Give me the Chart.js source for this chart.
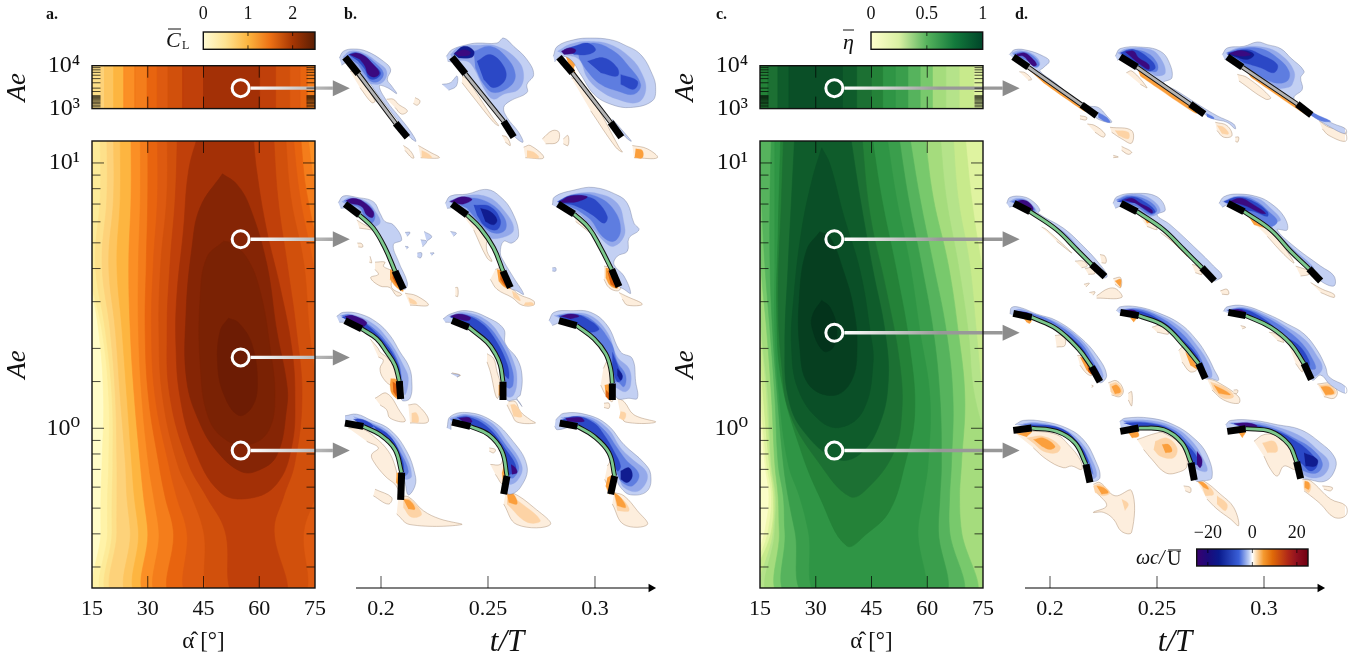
<!DOCTYPE html>
<html><head><meta charset="utf-8">
<style>html,body{margin:0;padding:0;background:#fff;width:1356px;height:661px;overflow:hidden}canvas{position:absolute}</style>
<script src="https://cdn.jsdelivr.net/npm/chart.js@4"></script></head><body>
<script>
// ---------- contour palettes ----------
const clColors=['#fffcc8','#fff3a8','#fdeb99','#fde08a','#fdd27a','#fdc55f','#fdb540','#fb8f25','#f47d1b','#e8640f','#dd5a10','#d1500c','#c0400a'];
const clBlobColors=['#a33006','#852505','#7a2204','#6d1c04'];
const etaColors=['#fbfdc8','#f0f8b0','#dff3a0','#c8ea8c','#b5e38a','#a5dc7d','#78c96c','#56b35d','#3a9e4c','#2f9545'];
const etaBlobColors=['#248238','#1c7033','#0f5c2b','#0a4f27','#063f20','#03331b'];
// ---------- Ae rows of the contour boundaries ----------
const aeRows=[13,7.4,4.17,2.33,1.31,0.734,0.55,0.41,0.23];
const aeTopRows=[12000,800];
// ---------- panel a: lift contours, alpha of each boundary per Ae row ----------
const clLeft=[
[5,5,5,5,5,5,5,5,5],
[14,14,14,16.8,18.1,17.7,17.4,17.4,17.7],
[14,14,14,17.7,19.5,19.5,19.2,19.2,19.5],
[17.2,17.2,15.9,18.6,20.4,20.6,20.4,20.4,20.8],
[19,19,17.7,19.9,21.3,21.7,21.7,21.7,22.2],
[20.8,20.8,19.5,21.3,22.6,24,24.4,25.3,26],
[22.6,22.6,21.7,23.1,24.4,25.7,26.4,27.5,28.4],
[25.5,25.5,24.9,25.3,26.4,28,28.9,30,30.7],
[28,28,27.5,27.5,28.4,30.2,31.6,33,33.8],
[30,30,29.6,29.3,30.2,33,34.7,36.9,37.4],
[32.6,32.6,31.5,31,32,35.6,37.8,40.5,41.9],
[35.3,35.1,33.5,33,34,38,41.9,45,47.7],
[38,37.4,36,35.2,36,41,45.9,50.8,53.5]];
const clRight=[
[90,90,90,90,90,90,90,90,90],[90,90,90,90,90,90,90,90,90],[90,90,90,90,90,90,90,90,90],[90,90,90,90,90,90,90,90,90],
[90,90,90,90,90,90,90,90,90],[90,90,90,90,90,90,90,90,90],[90,90,90,90,90,90,90,90,90],[90,90,90,90,90,90,90,90,90],
[72.8,76.5,90,90,90,90,90,90,90],
[71,73,78,90,90,90,90,90,90],
[69,71,74.5,77,90,90,90,90,90],
[67,68.5,72,73.5,75.5,77,75,72,71.3],
[63.8,65,67.5,70,71.5,69.5,66.5,64,67]];
const clBlobs=[
[[43.7,13],[41,9.36],[39.6,5.56],[37.8,3.11],[37.6,2.02],[38.7,1.31],[42.3,.85],[49.5,.574],[57.5,.545],[64.7,.617],[68.7,.85],[69.6,1.31],[68.7,2.02],[65.6,3.4],[62,5.56],[59.3,9.36],[58.3,13]],
[[50.1,9.1],[44.1,6.8],[41.9,4.8],[40.3,2.7],[40.5,1.51],[44.1,1.04],[48.6,.82],[54.8,.69],[59.3,.69],[64.7,.79],[67.4,1.2],[67.4,1.47],[64.7,2.33],[62,4.17],[57.5,6.8],[54,8.3],[50.1,9.1]],
[[50.4,5.07],[45.9,4.4],[44.1,3.11],[44.1,1.75],[46.3,1.1],[51.3,.9],[57.5,.87],[62.5,.98],[64.2,1.31],[62.9,2.02],[60.2,3.3],[56.6,4.4],[52.2,5],[50.4,5.07]],
[[51.7,2.6],[49.5,2.33],[48.8,1.75],[50.4,1.35],[54.4,1.12],[58,1.2],[59.5,1.47],[58,2.08],[54.4,2.5],[51.7,2.6]]];
// panel a, high Ae strip: [colour index in clColors or blob, left alpha, right alpha]
const clTopLevels=[[3,5,90],[4,17.3,90],[5,18.4,90],[6,20.9,90],[7,23.6,90],[8,26.5,90],[9,29.9,72.9],[10,32.6,71],[11,35.5,68.2],[12,39.4,64.4]];
const clTopPeak=[45,60.1];
// ---------- panel c: efficiency contours ----------
const etaLeft=[
[5,5,5,5,5,5,5,5,5],
[13,13,13,13.7,14.8,16.3,17.4,16.3,13],
[13,13,13,14,15.2,16.8,18.1,17.2,13.7],
[13,13,13.7,14.6,15.9,17.5,18.6,18.1,14],
[13,13,14,15.2,16.8,17.9,19,18.6,17],
[13,13,14.3,15.4,17.2,18.1,19.3,19,18.6],
[13,14.6,15.2,16.8,18.1,19,19.9,20.2,21.3],
[14.8,15.4,16.3,17.7,19,19.9,21.3,21.7,23.3],
[18.1,17.7,17.7,18.4,19.7,21.3,22.6,24.4,28],
[19,19,19,19,20.2,22.6,25.7,28,31.1]];
const etaRight=[
[90,90,90,90,90,90,90,90,90],[90,90,90,90,90,90,90,90,90],[90,90,90,90,90,90,90,90,90],
[70.1,71.9,74.6,78,90,90,90,90,90],
[66.9,68.3,71.4,73.2,75,78,90,90,90],
[63.4,65.1,68.3,71,72.8,78,80,80,80],
[59.3,61.6,65.6,68.3,70.1,69.2,68.7,69.2,71.9],
[55.1,58,61.6,65.1,66.9,66.5,66,66,68.3],
[52.2,54.9,58.4,61.6,63.4,63.8,63.4,63,63.8],
[49,51.7,55.3,58,60.7,60.2,58.9,57.5,58]];
const etaBlobs=[
[[20.6,13],[19.9,5.56],[19.5,2.7],[20.8,1.51],[25.7,.85],[31.1,.55],[38.3,.361],[43.7,.4],[49.9,.49],[54,.734],[56.6,1.13],[55.3,2.02],[51.7,3.93],[47.7,7.4],[45,13]],
[[21.4,13],[20.8,7.4],[19.9,3.11],[20.8,1.75],[23.1,1.13],[31.1,.734],[39.2,.553],[43.7,.59],[50.8,.8],[53.1,1.13],[52.6,1.75],[49,3.3],[44.6,6.4],[42.3,13]],
[[24.4,13],[23.5,7.4],[22.6,4.17],[21.7,2.02],[22.6,1.31],[26.6,.98],[35.6,.766],[41.9,.8],[47.2,1.04],[49.5,1.51],[48.6,2.33],[45.4,3.93],[41.9,7.4],[39.2,13]],
[[31.6,11.4],[29,8.6],[26.2,5.56],[24.1,3.11],[23.5,2.02],[25.3,1.4],[31.1,1.07],[36.9,1.01],[42.8,1.17],[45.4,1.75],[44.6,2.33],[41.9,3.93],[37.4,6.4],[33.8,9.9],[31.6,11.4]],
[[31.1,5.5],[27.5,4.67],[25.6,3.11],[25.7,2.02],[28,1.47],[34.7,1.33],[39.6,1.51],[41.1,2.02],[40.1,2.86],[37.4,3.93],[33.8,5.26],[31.1,5.5]],
[[31.6,3.03],[29.3,2.7],[29,2.4],[32,1.96],[34.7,2.02],[35.6,2.4],[33.8,2.86],[31.6,3.03]]];
const etaTopLevels=[['#dff3a0',5,90],['#c8ea8c',5,72.5],['#b5e38a',5,68.6],['#a5dc7d',5,65],['#78c96c',5,61.4],['#56b35d',5,58.1],['#3a9e4c',5,54.8],['#2f9545',5,51.4],['#248238',15.5,48],['#1c7033',17.2,45],['#0f5c2b',19.9,41],['#0a4f27',22.9,37.2]];
// ---------- operating points marked on the maps ----------
const clPoints=[[55,5.16],[55,1.85],[55,.824]], clTopPoint=[55,3000];
const etaPoints=[[35,5.16],[35,2.29],[35,.824]], etaTopPoint=[35,3000];
// ---------- colour bars ----------
const clBarStops=[[0,'#fffbd4'],[.2,'#fee391'],[.4,'#fdb53f'],[.6,'#ec7014'],[.8,'#a63603'],[1,'#5a1e04']];
const etaBarStops=[[0,'#ffffcc'],[.25,'#d9f0a3'],[.5,'#56b35d'],[.75,'#137a3c'],[1,'#004529']];
const vortBarStops=[[0,'#3a0070'],[.1,'#1c0a7a'],[.2,'#0a1a8c'],[.38,'#3a60d8'],[.47,'#c0d0f4'],[.5,'#ffffff'],[.53,'#fde0b8'],[.6,'#f59a30'],[.68,'#e06a08'],[.82,'#b02818'],[.9,'#901020'],[1,'#700010']];
const clBarTicks=[0,1,2], etaBarTicks=[0,.5,1], vortBarTicks=[-20,0,20];
// ---------- snapshots: time axis ----------
const timeTicks=[.2,.25,.3];
// vorticity levels: 1-6 negative (pale to dark), 11-14 positive (pale to dark)
const vortColors={1:'#c3d0f3',2:'#94a9ea',3:'#5e7de0',4:'#2b48c6',5:'#101c90',6:'#3a0a80',11:'#fdeedd',12:'#fdd3a5',13:'#fb9f3c',14:'#d95f0e'};
// chord coordinates are read at 300 units per chord
const rowOriginB=[158,92,445,215], colOriginB=[45,365,685], rowYB=[.527,2.007,3.183,4.217];
const rowOriginD=[67,510,48,402], colOriginD=[40,360,680], rowYD=[.523,2,3.11,4.29];
const plateB=[
[[45,158,85,208,197,358,232,400],[365,158,405,208,520,352,550,400],[685,158,725,205,840,355,872,400]],
[[45,92,88,125,130,165,165,225,195,295,220,350],[365,92,410,125,450,165,490,225,518,295,540,345],[682,92,730,122,775,165,810,225,843,290,865,342]],
[[45,445,95,470,140,500,170,540,195,580,208,628,212,682],[365,445,415,465,470,510,495,545,510,580,518,630,518,685],[685,445,738,460,790,500,825,545,840,590,845,635,845,685]],
[[45,215,100,225,150,250,195,295,215,365,212,447],[365,212,420,225,475,250,515,300,530,375,520,430],[687,215,740,225,790,255,835,305,852,375,840,430]]];
const vortB=[[
[[11,60,200,80,205,135,290,125,295,90,250],[11,170,285,190,285,205,300,232,320,215,330,195,310],[11,255,280,270,290,262,303,250,298],[11,265,425,300,445,328,462,272,462],[11,220,425,240,440,252,462,245,462,225,440],[12,275,440,295,450,305,462,275,462],[13,70,165,88,172,95,205,80,190],
 [1,28,160,40,140,70,133,110,140,160,170,182,195,172,225,185,245,200,268,172,250,148,245,170,290,205,335,240,380,258,412,240,400,200,345,150,280,90,200,50,175,35,182],[2,38,158,60,140,100,145,145,175,170,200,160,232,130,240,105,225,85,190,55,170],[3,50,155,70,143,100,150,135,175,160,205,150,228,125,232,105,210,85,180],[4,55,150,80,145,110,160,130,180,152,205,140,222,118,222,105,195,85,170],[6,58,150,80,145,105,155,125,175,148,205,135,218,115,210,105,185,90,165]],
[[11,395,215,410,225,480,330,490,345,505,365,490,355,430,280,395,235],[11,515,395,530,400,540,425,525,415],[11,580,430,600,425,640,462,585,462],[12,590,440,610,445,625,462,590,462],[13,388,168,425,168,415,200,470,275,450,250,405,205],
 [1,348,155,365,135,410,120,440,115,500,115,520,100,550,125,590,165,610,210,590,240,590,265,540,290,520,310,530,340,565,385,578,415,555,400,520,352,470,290,430,235,395,195,370,175,352,170],[1,335,240,360,235,380,215,378,245,355,258],[2,360,150,385,128,440,122,500,125,560,165,580,210,565,255,520,270,490,285,465,260,430,190,410,170,370,170],[3,430,140,480,125,530,160,555,210,540,245,490,265,460,240,435,190],[4,440,170,480,150,520,185,525,225,490,250,460,225],[5,370,148,400,125,430,138,425,158,385,160],[6,373,145,400,135,420,142,415,152,385,155]],
[[11,722,220,745,230,800,310,865,430,875,445,855,430,780,320],[11,635,405,665,380,685,385,680,415,645,420],[11,698,405,712,395,712,425,698,420],[11,905,425,950,435,980,462,910,462],[13,705,155,750,155,730,195,790,280,750,235,720,195],[13,915,435,935,440,935,462,912,462],
 [1,668,155,680,125,730,105,780,100,840,105,880,120,930,150,965,210,975,250,965,290,900,310,840,300,790,270,750,210,720,165,690,155,672,172],[1,845,345,880,385,902,412,885,400,845,350],[2,680,140,720,118,780,110,840,120,900,160,935,210,945,260,920,295,860,285,810,260,770,220,745,165,700,150],[3,740,130,790,115,850,140,890,180,930,240,910,270,860,260,810,240,770,200,745,160],[4,700,135,730,125,770,115,795,135,770,150,730,150],[4,770,170,820,160,860,190,860,215,810,205],[4,870,210,920,230,910,255,870,240],[6,692,140,715,130,735,135,730,145,700,150]]
],[
[[11,80,140,95,150,130,170,110,168,88,165],[11,82,210,95,212,98,222,85,222],[11,120,250,125,270,118,268],[11,135,268,165,268,160,280,178,290,190,295,185,345,215,365,200,370,180,345,150,340,122,315,145,305,135,290],[11,225,362,260,370,295,398,240,398],[12,235,375,255,385,260,395,240,392],[13,180,290,195,298,220,355,200,345,180,320],[14,188,300,195,310,215,350,200,335,188,315],
 [1,25,88,40,68,80,72,130,85,150,120,165,145,190,155,215,200,190,215,205,265,232,330,225,350,210,340,190,290,165,225,125,165,85,125,50,105,32,105],[1,225,178,240,178,232,190],[1,272,200,290,205,278,222],[1,282,175,305,190,290,205],[1,262,240,275,240,272,255,262,252],[1,300,240,312,240,305,248],[1,225,220,235,222,230,228],[2,35,85,60,72,110,85,140,120,150,150,120,160,95,130,60,100],[3,42,82,65,76,110,90,135,125,125,150,105,135,90,105,55,92],[6,48,82,70,75,100,85,130,115,128,133,110,125,95,100,60,90]],
[[11,400,130,420,135,480,215,470,205,470,235,485,265,470,255,430,170],[11,495,290,515,285,545,345,565,365,610,385,610,398,575,398,545,375,500,350,480,320],[11,375,345,382,345,382,372,375,370],[12,545,355,560,365,570,385,550,375],[12,585,390,605,390,610,398,580,398],[13,500,290,515,295,545,345,525,345,505,325],[14,510,300,520,310,540,345,525,340,510,320],
 [1,345,90,360,68,410,62,470,48,510,70,545,115,565,185,545,210,520,205,510,240,520,265,550,315,580,365,560,355,538,345,518,295,490,225,450,165,410,125,370,105,350,105],[1,360,175,378,180,370,190],[2,355,85,400,68,470,70,520,110,550,170,510,195,470,190,440,150,400,110],[3,360,82,400,72,470,85,520,130,525,170,490,180,450,150,410,105],[4,430,95,480,100,510,140,500,170,465,160,440,125],[5,450,105,480,115,500,140,490,155,465,145],[6,358,85,395,70,425,78,400,92,375,90]],
[[11,725,105,745,115,790,170,830,260,800,200,760,165,735,145],[11,820,280,840,285,870,345,860,355,835,345,820,320],[11,865,360,885,370,935,395,890,398,875,380],[13,825,285,838,290,862,345,840,340,825,315],[14,830,295,840,310,858,345,840,335],
 [1,665,95,672,70,730,50,790,42,860,65,890,90,910,150,925,170,895,195,890,235,860,250,850,275,880,310,900,362,880,350,865,340,843,290,810,225,775,165,730,122,690,108],[1,665,285,675,285,675,295,665,295],[2,680,85,730,62,800,60,860,90,880,150,880,190,850,220,825,210,790,170,750,125],[3,682,85,740,62,800,70,850,110,870,170,850,205,815,190,780,140,740,110],[4,680,85,720,66,770,70,800,85,830,130,820,150,785,125,740,100,700,90],[6,683,88,720,68,770,70,740,85,700,88]]
],[
[[11,120,500,145,530,150,540,175,560,195,590,200,620,185,640,160,620,150,590,160,565,145,555],[11,135,680,170,665,210,720,225,750,180,740,170,715,150,700],[11,235,700,262,700,295,750,240,755],[12,245,725,260,725,265,752,245,752],[13,182,620,200,625,203,680,185,665,180,640],[14,188,630,200,640,202,675,190,660],
 [1,20,432,40,420,90,425,140,450,180,490,210,540,235,580,245,620,240,680,215,685,212,630,195,580,170,540,140,500,95,470,50,452,28,450],[2,30,430,60,425,130,455,180,510,220,580,235,620,225,670,218,630,195,580,170,540,140,500,95,470],[3,35,430,60,428,120,460,170,510,205,570,215,620,215,650,195,580,170,540,140,500,95,470],[4,35,435,70,430,120,465,175,525,205,580,212,620,195,575,170,535,140,495,95,465],[6,45,432,70,430,110,450,95,465,60,448]],
[[11,470,545,490,560,500,600,510,640,500,680,480,600,470,570],[11,535,690,555,690,570,720,600,745,615,755,560,752,545,730,530,700],[11,365,603,390,610,380,616],[12,540,700,555,700,575,735,550,735],[13,505,640,515,640,520,680,505,670],
 [1,338,440,360,425,410,415,470,435,520,470,525,515,560,560,575,610,570,670,560,680,575,705,560,685,530,685,518,630,510,580,490,540,470,510,415,465,372,452,345,450],[1,362,605,388,610,380,616],[2,355,432,400,420,470,445,515,500,550,570,560,620,550,670,530,675,518,630,510,580,490,540,470,510,415,465],[3,360,432,400,425,460,450,510,510,545,590,548,640,535,650,518,630,510,580,490,540,470,510,415,465],[4,360,435,400,428,450,450,490,495,530,575,535,620,520,605,505,570,485,530,465,500,415,460],[6,360,432,385,425,420,435,415,445,380,440]],
[[11,818,590,830,570,845,640,845,690,825,670,810,640],[11,860,680,880,690,910,730,975,752,885,752,870,730],[11,820,695,835,695,835,710,820,708],[12,870,720,885,725,880,745,865,740],[13,822,640,835,640,840,685,825,670],[14,826,655,838,670,838,685,825,675],
 [1,655,445,670,420,720,415,780,420,830,460,870,540,905,560,915,630,920,680,895,680,860,680,845,635,840,590,825,545,790,500,738,460,695,450,665,460],[2,670,430,720,422,780,430,830,480,860,555,895,590,900,640,885,660,860,650,845,635,840,590,825,545,790,500,738,460],[3,680,430,720,425,780,440,840,510,860,570,885,610,880,645,860,630,845,635,840,590,825,545,790,500,738,460],[4,685,432,730,425,770,440,805,470,780,480,738,455],[4,845,540,865,590,875,620,860,630,845,590],[5,860,590,875,610,870,625,860,610],[6,690,432,720,425,745,432,720,440]]
],[
[[11,55,230,95,232,135,258,175,300,195,345,205,395,205,415,195,400,165,375,130,330,125,310,145,290,110,270],[11,205,440,235,438,280,480,330,505,395,522,240,522,200,490],[11,135,415,185,440,175,460,130,435],[12,220,445,240,445,275,490,245,500,220,470],[13,200,365,212,370,210,405,198,395],[13,220,445,240,450,255,475,235,475],
 [1,45,193,80,188,120,205,180,235,230,300,255,370,255,405,235,432,225,395,215,365,195,295,150,250,100,225,45,210],[2,70,195,120,212,180,245,225,310,245,375,225,385,215,365,195,295,150,250,100,225],[3,80,200,120,215,175,250,215,310,235,360,225,375,215,365,195,295,150,250,100,225],[4,70,203,100,205,130,225,100,225],[4,130,222,180,255,215,320,222,360,215,365,195,295,150,250]],
[[11,480,340,510,340,520,320,530,360,518,400,495,370],[11,477,290,495,295,490,305,477,300],[11,525,430,545,425,610,470,660,522,560,522,520,460],[12,530,430,570,455,630,510,590,515,530,460],[13,525,325,535,350,530,375,520,395,515,365],[13,530,425,550,430,560,460,535,455],
 [1,350,230,360,195,410,183,480,205,540,260,590,345,570,410,535,430,525,400,530,375,515,300,475,250,420,225,365,212,362,235],[2,358,200,410,188,480,212,530,270,575,345,560,390,530,400,530,375,515,300,475,250,420,225,365,212],[3,360,205,410,192,475,220,525,280,565,345,550,380,532,375,515,300,475,250,420,225],[4,380,198,420,198,475,230,530,300,555,340,555,365,540,370,530,375,515,300,475,250,420,225],[6,385,200,415,198,425,212,400,212],[6,542,340,555,350,560,365,545,370]],
[[11,830,345,845,325,852,375,840,420,822,385],[11,850,425,880,435,920,480,950,522,880,522,845,460],[12,850,430,880,450,895,480,860,480],[13,830,380,845,375,838,430,825,405],[13,850,425,870,440,885,470,860,465],
 [1,675,205,700,185,770,190,830,220,880,280,940,335,960,370,950,420,900,432,870,410,855,380,852,375,835,305,790,255,740,225,680,235,672,225],[2,690,198,770,195,830,230,870,290,900,320,950,370,925,420,880,410,860,370,852,375,835,305,790,255,740,225],[3,700,198,770,200,820,235,860,290,885,325,925,370,905,405,875,395,860,370,852,340,835,305,790,255,740,225],[4,690,205,740,195,790,215,820,250,850,300,870,345,860,360,835,305,790,255,740,225],[5,870,360,895,350,905,375,890,395,870,385],[6,705,200,750,198,760,210,710,210]]
]];
const plateD=[
[[40,67,85,98,245,212,290,245],[360,67,410,98,570,210,612,240],[680,67,725,98,890,210,932,243]],
[[42,510,90,535,170,590,230,650,275,695,315,732],[362,510,410,535,490,590,550,650,605,705,642,745],[682,510,730,535,810,590,870,655,925,708,960,745]],
[[40,48,95,60,170,95,235,155,275,210,300,255],[360,45,415,55,490,85,550,145,595,200,615,245],[683,45,735,55,810,90,870,140,910,200,932,248]],
[[40,402,95,395,170,405,225,440,258,505,270,560],[360,405,415,395,490,400,545,440,572,500,582,553],[680,405,735,397,810,405,865,445,888,497,900,548]]];
const vortD=[[
[[11,58,112,75,115,95,135,85,138],[11,240,245,260,250,258,258,240,255],[11,262,270,285,275,315,300,310,310,285,295],[11,330,280,395,290,395,328,365,315,335,295],[11,365,338,395,355,385,362,365,350],[11,340,365,355,370,340,372],[12,345,290,385,295,385,315,355,305],[13,80,100,90,108,160,158,245,218,255,232,200,195,130,145],
 [1,28,60,45,45,85,48,130,65,148,80,130,100,120,110,165,145,220,190,265,215,295,220,320,245,335,265,305,260,280,245,245,212,185,165,85,98,40,72],[2,35,55,60,48,100,60,120,85,110,100,85,85,50,70],[2,160,145,240,205,245,212,185,165],[3,40,58,70,52,100,65,118,90,105,98,85,80,50,67],[3,295,235,320,250,330,265,310,260,295,250],[6,50,58,75,55,95,70,110,90,100,95,85,80,70,65,50,65]],
[[11,378,115,395,110,440,160,420,150],[11,645,265,680,275,695,305,670,310,650,290],[11,705,310,715,310,712,325,705,322],[12,650,275,670,280,685,300,665,300],[13,410,100,480,150,570,212,590,238,565,225,470,160,420,125],
 [1,345,65,360,42,430,38,480,50,505,80,515,130,490,145,530,170,600,215,650,245,700,270,705,285,680,265,640,255,612,240,570,210,500,165,410,98,360,72,352,78],[2,352,55,380,42,450,45,480,70,495,115,470,125,450,115,410,98],[3,360,55,385,45,440,55,470,85,470,110,445,110,420,98,380,72],[3,618,238,640,250,640,255,620,248],[4,360,55,400,45,450,75,465,100,445,110,410,88],[6,375,52,400,50,415,70,445,90,445,105,420,90,395,70]],
[[11,710,120,740,130,810,190,795,195,715,140],[11,955,260,985,280,1030,290,1035,322,985,305,965,285],[12,1020,280,1035,285,1035,300,1020,295],[13,730,100,810,156,890,212,920,243,885,222,800,163,750,128],
 [1,665,60,680,40,730,35,770,22,800,30,840,42,870,70,910,110,900,130,905,165,880,190,900,215,960,250,1000,270,1035,285,1035,300,990,280,932,243,890,210,810,155,725,98,680,72,672,75],[2,675,55,720,38,790,38,840,60,880,110,875,150,860,160,825,160,725,90],[3,680,55,720,42,780,42,830,70,865,110,860,140,820,145,770,120,725,88],[3,905,215,945,240,990,262,960,260,925,240],[4,680,55,740,45,780,60,830,90,820,115,780,100,730,85],[5,680,60,730,48,760,60,740,75,700,65],[6,685,57,720,48,750,60,730,65,700,62]]
],[
[[11,125,582,140,590,215,660,170,625],[11,225,685,250,685,262,700,245,705],[11,255,708,275,705,285,722,265,725],[11,300,665,315,670,318,690,305,690],[11,290,790,325,768,350,770,365,795,290,797],[11,268,780,285,778,280,788],[11,252,755,268,752,258,763],[11,340,738,362,735,362,765,345,755],[13,345,745,362,740,362,765],
 [1,20,510,30,492,70,490,100,505,120,530,115,540,190,585,250,640,300,695,322,730,310,735,275,695,230,650,170,590,90,535,40,520,28,522],[2,28,505,50,495,80,500,110,535,90,535,42,510],[2,120,555,190,595,240,650,230,650,170,590],[3,35,505,60,498,85,508,105,530,90,532,55,515],[6,45,505,70,500,90,510,100,528,90,530,60,515]],
[[11,415,545,465,580,470,590,440,580],[11,480,598,560,660,570,670,555,655],[11,575,695,590,700,605,725,585,720],[11,660,775,680,770,685,785,665,785],[13,425,545,460,565,440,570],[13,490,600,560,670,555,665],
 [1,338,510,350,490,400,480,470,490,495,530,470,545,510,575,590,650,640,700,665,730,645,745,642,745,605,705,550,650,490,590,410,535,362,520,345,525],[2,345,500,385,483,440,490,480,530,450,550,410,535],[2,490,580,550,640,610,705,550,650],[3,350,500,385,487,440,500,470,530,450,545,410,520],[4,350,505,395,490,440,510,465,535,450,540,410,510],[6,370,500,395,495,420,510,455,530,455,540,430,525,405,510]],
[[11,735,545,790,580,840,630,880,690,850,665,800,610],[11,885,700,925,715,925,725,900,730],[11,930,750,965,770,1000,785,1000,795,960,780],[13,740,545,800,585,760,575],
 [1,655,510,670,490,710,482,770,490,810,510,850,550,860,590,830,590,880,640,960,700,1000,730,1000,760,960,745,925,708,870,655,810,590,730,535,682,515,665,522],[2,665,505,710,488,770,495,810,525,840,560,820,570,810,590,730,535],[2,830,600,880,650,940,705,925,708,870,655],[3,670,505,710,490,760,500,810,540,830,565,810,580,760,555,730,535],[4,670,505,710,492,760,505,800,535,800,550,760,535,730,530],[6,685,505,720,495,760,515,795,540,780,540,740,520,710,510]]
],[
[[11,165,115,190,115,195,145,170,150],[11,232,175,255,180,275,235,260,230,240,205],[11,325,258,350,252,370,280,360,300,335,295],[11,385,290,395,285,395,328,385,310],[11,275,265,280,268,275,272],[12,330,262,350,258,368,285,350,298,332,285],[13,240,180,255,185,275,230,260,220],[13,335,270,350,265,362,285,345,292],[13,70,62,95,62,90,78,80,75],[14,262,205,272,210,275,232,265,225],
 [1,30,50,35,30,60,30,110,50,170,70,240,120,290,175,320,235,300,258,280,220,235,155,170,95,95,60,40,55],[2,40,40,60,35,110,52,170,75,240,125,285,185,310,235,300,250,280,220,235,155,170,95,95,60],[3,45,42,100,50,170,80,240,135,280,195,300,235,290,230,275,210,235,155,170,95,95,60],[4,45,42,85,47,95,60,60,55],[4,270,190,295,225,295,240,275,210],[4,150,75,240,145,275,205,235,155,170,95],[6,48,42,85,48,90,58,55,55]],
[[11,455,90,480,85,505,110,470,105],[11,535,160,550,150,590,215,570,225,545,195],[11,620,245,650,255,715,300,715,320,670,310,635,280],[11,700,280,712,280,710,290,700,290],[12,630,255,680,275,700,300,670,305,640,280],[13,555,165,575,185,590,215,570,205],[13,640,265,680,285,690,295,655,290],[13,390,62,410,60,400,75],
 [1,348,40,360,28,410,28,470,45,540,80,590,130,620,175,640,215,655,250,630,245,615,245,595,200,550,145,490,85,415,55,360,50],[2,355,38,410,32,470,50,540,90,590,145,625,200,635,240,615,240,595,200,550,145,490,85,415,55],[3,360,38,410,35,470,55,530,95,580,150,610,205,610,225,595,200,550,145,490,85,415,55],[4,360,40,415,40,490,75,545,125,590,175,598,200,550,145,490,85,415,55],[6,362,40,400,38,412,52,370,50]],
[[11,805,105,825,110,850,135,830,130],[11,865,145,875,145,905,205,905,225,885,200],[11,950,262,990,260,1010,285,1000,305,970,300],[11,720,85,735,90,725,95],[12,955,265,990,265,1005,290,975,298],[13,960,270,985,270,1000,290,975,295],
 [1,668,42,680,28,730,25,800,50,860,80,910,110,950,160,975,210,985,240,1035,270,1035,290,990,265,960,235,935,250,910,200,870,140,810,90,735,55,683,48],[2,675,38,730,30,800,55,860,90,910,125,945,170,965,215,935,240,910,200,870,140,810,90,735,55],[3,680,38,730,33,800,62,860,100,905,140,935,185,945,215,925,215,910,200,870,140,810,90,735,55],[4,680,40,730,36,790,65,850,115,895,145,925,190,925,210,910,190,870,140,810,90,735,55],[6,685,40,715,36,735,45,695,48]]
],[
[[11,45,410,95,405,170,415,205,445,240,490,245,520,215,510,190,515,140,490,100,455],[11,280,565,300,560,345,600,395,585,395,710,365,708,340,670,310,650,280,650,320,630,290,590],[12,80,425,130,420,180,450,170,470,130,465,105,445],[12,280,570,300,565,330,590,310,600,285,590],[12,365,610,385,625,375,645],[13,100,430,130,425,165,450,150,460,125,450],[13,290,570,310,575,325,590,305,595],[13,50,412,95,405,80,422],
 [1,45,385,70,372,130,375,200,395,250,430,285,490,300,545,275,555,258,505,225,440,170,405,95,395],[2,55,385,110,378,190,398,245,440,280,500,290,540,275,548,258,505,225,440,170,405,95,395],[3,70,383,120,383,190,402,240,445,270,500,280,535,275,530,258,505,225,440,170,405,95,395],[4,90,385,180,395,235,440,265,495,258,505,225,440,170,405,95,395]],
[[11,410,430,470,410,490,410,545,450,560,510,530,530,495,530,455,490,430,460],[11,590,555,610,555,660,595,700,635,715,690,690,670,650,640,620,610],[11,550,570,570,575,570,590,555,585],[12,465,435,500,425,530,455,520,485,480,480,460,460],[12,600,560,625,570,640,595,615,600],[12,650,600,680,625,675,645,650,625],[13,590,555,610,560,625,580,610,575],[13,485,445,505,445,515,465,495,470],[13,385,410,410,405,415,420,395,425],
 [1,358,375,375,365,450,365,520,385,580,425,620,475,635,545,605,555,585,553,572,500,545,440,490,400,415,395,362,395],[2,365,372,450,372,520,392,575,435,610,490,620,525,590,520,572,500,545,440,490,400,415,395],[3,370,375,450,378,520,400,570,445,600,490,605,510,585,500,572,500,545,440,490,400,415,395],[4,370,380,440,380,510,400,565,450,595,490,600,505,575,500,545,440,490,400,415,395],[6,590,465,605,490,600,515,590,505]],
[[11,760,435,790,415,830,420,880,480,885,520,850,510,830,540,810,520,790,480],[11,905,550,930,555,990,610,1035,630,1035,660,1000,665,960,625,930,600,910,585],[11,965,570,995,575,990,585,970,580],[12,785,440,820,435,830,465,800,470],[12,910,560,930,565,925,590,910,580],[13,912,555,925,560,925,580,912,575],[13,890,480,905,490,900,505],[13,715,410,735,405,725,425],
 [1,675,385,690,372,760,372,830,385,900,400,960,440,1000,480,1005,515,975,555,920,550,905,545,888,497,865,445,810,405,735,397,682,405],[2,685,380,760,377,830,392,900,420,950,460,985,500,965,540,915,540,888,497,865,445,810,405,735,397],[3,690,380,760,382,830,400,880,425,930,455,965,500,950,530,910,525,888,497,865,445,810,405,735,397],[4,700,382,760,385,830,405,870,425,925,465,950,505,930,525,900,500,888,497,865,445,810,405,735,397],[5,910,470,950,490,945,510,915,510],[6,700,382,745,380,770,390,735,395]]
]];

// ---------- helpers ----------
const SERIF='"Liberation Serif","DejaVu Serif",serif';
const SUP={1:'\u00b9',0:'\u2070',3:'\u00b3',4:'\u2074'};
const isDecade=v=>Math.abs(Math.log10(v)-Math.round(Math.log10(v)))<1e-6;
const frameTicks={id:'frameTicks',afterDatasetsDraw(chart,_a,o){
  if(!o||!o.on)return;
  const {ctx,chartArea:a,scales:{x,y}}=chart;ctx.save();ctx.lineWidth=1;ctx.strokeStyle='rgba(0,0,0,.7)';
  const ln=(x1,y1,x2,y2)=>{ctx.beginPath();ctx.moveTo(x1,y1);ctx.lineTo(x2,y2);ctx.stroke();};
  if(o.xLen)x.ticks.forEach(t=>{if(t.value<=x.min||t.value>=x.max)return;const p=x.getPixelForValue(t.value);ln(p,a.bottom,p,a.bottom-o.xLen);if(!o.xBottomOnly)ln(p,a.top,p,a.top+o.xLen);});
  if(o.logY)y.ticks.forEach(t=>{if(t.value<=y.min||t.value>=y.max)return;const p=y.getPixelForValue(t.value);const l=isDecade(t.value)?12:8.5;ln(a.left,p,a.left+l,p);ln(a.right,p,a.right-l,p);});
  if(o.frame){ctx.lineWidth=1.4;ctx.strokeStyle='#111';ctx.strokeRect(a.left,a.top,a.right-a.left,a.bottom-a.top);}
  (o.heads||[]).forEach(h=>{const px=x.getPixelForValue(h[0]),py=y.getPixelForValue(h[1]);ctx.fillStyle='#8c8c8c';ctx.beginPath();ctx.moveTo(px+11,py);ctx.lineTo(px-6,py-8);ctx.lineTo(px-6,py+8);ctx.closePath();ctx.fill();});
  ctx.restore();
}};
const notesPlugin={id:'notes',afterDraw(chart,_a,o){
  if(!o||!o.items)return;const c=chart.ctx;c.save();c.fillStyle='#111';c.strokeStyle='#111';c.textBaseline='middle';
  o.items.forEach(n=>{c.font=n.font;c.textAlign=n.align||'left';c.fillText(n.text,n.x,n.y);
    if(n.bar){c.lineWidth=1;c.beginPath();c.moveTo(n.x+n.bar[0],n.y-n.bar[2]);c.lineTo(n.x+n.bar[1],n.y-n.bar[2]);c.stroke();}});c.restore();
}};
Chart.register(frameTicks,notesPlugin);
function mk(left,top,w,h,cfg){
  const cv=document.createElement('canvas');cv.width=w;cv.height=h;
  cv.style.cssText=`left:${left}px;top:${top}px;width:${w}px;height:${h}px`;
  document.body.appendChild(cv);
  cfg.options=Object.assign({responsive:false,animation:false,events:[]},cfg.options);
  cfg.options.plugins=Object.assign({legend:{display:false},tooltip:{enabled:false}},cfg.options.plugins);
  return new Chart(cv,cfg);
}
let seq=0;
function poly(points,color,tension,extra){
  seq++;
  return Object.assign({data:points,showLine:true,fill:'shape',backgroundColor:color,borderColor:color,borderWidth:.6,pointRadius:0,tension:tension,capBezierPoints:false,order:-seq},extra||{});
}
function band(L,R,rows,color,t){
  const pts=[];L.forEach((v,i)=>pts.push({x:v,y:rows[i]}));
  for(let i=R.length-1;i>=0;i--)pts.push({x:R[i],y:rows[i]});
  return poly(pts,color,t);
}
const blob=(arr,color)=>poly(arr.map(p=>({x:p[0],y:p[1]})),color,.4);
function marker(pt,lineEnd){
  seq+=3;const start=pt[0]+2.7;
  return [
   {data:[{x:start,y:pt[1]},{x:lineEnd,y:pt[1]}],showLine:true,clip:false,borderWidth:3.4,pointRadius:0,order:-seq+2,
    borderColor:c=>{const ch=c.chart;if(!ch.chartArea)return '#999';const p=ch.scales.x.getPixelForValue(start);const g=ch.ctx.createLinearGradient(p,0,p+95,0);g.addColorStop(0,'#ffffff');g.addColorStop(1,'#989898');return g;}},
   {data:[{x:pt[0],y:pt[1]}],showLine:false,clip:false,pointRadius:8.5,pointBorderColor:'#fff',pointBorderWidth:3,pointBackgroundColor:'rgba(0,0,0,0)',order:-seq}
  ];
}
const decadeLabel=v=>{if(!isDecade(v))return '';return '10'+SUP[Math.round(Math.log10(v))];};
function axes(yMin,yMax,opts){
  return {
   x:{type:'linear',min:15,max:75,grid:{display:false,drawTicks:false},border:{display:false},
      ticks:{display:!!opts.xLabels,stepSize:15,padding:8,maxRotation:0,autoSkip:false,color:'#111',font:{family:SERIF,size:22}},
      title:{display:!!opts.xLabels,text:'\u03b1\u0302 [\u00b0]',color:'#111',font:{family:SERIF,size:23},padding:{top:0,bottom:5}},
      afterFit(s){s.height=opts.xH;}},
   y:{type:'logarithmic',min:yMin,max:yMax,grid:{display:false,drawTicks:false},border:{display:false},
      ticks:{autoSkip:false,padding:12,maxRotation:0,color:'#111',font:{family:SERIF,size:24},callback:decadeLabel},
      title:{display:true,text:'Ae',color:'#111',font:{family:SERIF,size:27,style:'italic'},padding:{top:2,bottom:0}},
      afterFit(s){s.width=92;}}
  };
}
function ticksWith(heads){return {on:true,frame:true,xLen:12,logY:true,heads:heads};}
function colorBar(left,w,pad,stops,range,ticks,labels,note){
  mk(left,0,w,60,{type:'bar',
   data:{labels:[''],datasets:[{data:[range],barPercentage:1,categoryPercentage:1,borderWidth:0,
     backgroundColor:c=>{const a=c.chart.chartArea;if(!a)return '#888';const g=c.chart.ctx.createLinearGradient(a.left,0,a.right,0);stops.forEach(s=>g.addColorStop(s[0],s[1]));return g;}}]},
   options:{indexAxis:'y',layout:{padding:{left:pad.l,right:pad.r,top:pad.t-32,bottom:60-pad.b}},
    scales:{x:{position:'top',min:range[0],max:range[1],grid:{display:false,drawTicks:false},border:{display:false},
       afterBuildTicks(s){s.ticks=ticks.map(v=>({value:v}));},
       ticks:{padding:pad.tick,maxRotation:0,autoSkip:false,color:'#111',font:{family:SERIF,size:18},callback:(v)=>labels[ticks.indexOf(v)]},
       afterFit(s){s.height=32;}},
      y:{display:false}},
    plugins:{frameTicks:{on:true,frame:true,xLen:4},notes:{items:note}}}
  });
}
// ---------- snapshots ----------
const DT=.05/1.07; // t/T per chord on the time axis
function snapshots(vort,plates,rowOrigin,colOrigin,rowY,leOff){
  const ds=[];const ord=[11,12,13,14,1,2,3,4,5,6];
  const conv=(r,c,arr,start)=>{const out=[];for(let i=start;i<arr.length;i+=2)
    out.push({x:timeTicks[c]+((arr[i]-colOrigin[c])/300+leOff)*DT,y:rowY[r]+(arr[i+1]-rowOrigin[r])/300});return out;};
  vort.forEach((row,r)=>row.forEach((shapes,c)=>{
    ord.forEach(l=>shapes.filter(s=>s[0]===l).forEach(s=>{
      const outline=l===1?{borderColor:'rgba(105,115,150,.65)',borderWidth:.6}:l===11?{borderColor:'rgba(165,135,105,.75)',borderWidth:.6}:{borderWidth:.3};
      ds.push(poly(conv(r,c,s,1),vortColors[l],.4,Object.assign({clip:false},outline)));
    }));
  }));
  plates.forEach((row,r)=>row.forEach((p,c)=>{
    const pts=conv(r,c,p,0);const n=pts.length;const mid=r===0?'#b4b4b4':'#7cc88c';const t=r===0?0:.4;
    const ln=(d,w,col,tt)=>{seq++;ds.push({data:d,showLine:true,clip:false,borderColor:col,borderWidth:w,pointRadius:0,tension:tt,borderCapStyle:'butt',fill:false,order:-seq});};
    ln(pts.slice(1,n-1),4.8,'#111',t);ln(pts.slice(1,n-1),2.8,mid,t);
    ln(pts.slice(0,2),7,'#000',0);ln(pts.slice(n-2),7,'#000',0);
  }));
  return ds;
}
function timeAxisChart(left,w,padL,padR,tMin,tMax,vort,plates,ro,co,ry,leOff,notes){
  const ds=snapshots(vort,plates,ro,co,ry,leOff);
  seq+=2;
  ds.push({data:[{x:.1883,y:5.88},{x:.3262,y:5.88}],showLine:true,clip:false,borderColor:'#000',borderWidth:1.2,pointRadius:0,order:-seq});
  ds.push({data:[{x:.3262,y:5.88}],showLine:false,clip:false,pointStyle:'triangle',rotation:90,pointRadius:5,pointBackgroundColor:'#000',pointBorderWidth:0,order:-seq-1});
  mk(left,0,w,661,{type:'scatter',data:{datasets:ds},options:{
    layout:{padding:{left:padL,right:padR,top:0,bottom:0}},
    scales:{x:{type:'linear',min:tMin,max:tMax,grid:{display:false,drawTicks:false},border:{display:false},
       afterBuildTicks(s){s.ticks=timeTicks.map(v=>({value:v}));},
       ticks:{padding:8,maxRotation:0,autoSkip:false,color:'#111',font:{family:SERIF,size:22},callback:v=>String(v)},
       title:{display:true,text:'t/T',color:'#111',font:{family:SERIF,size:31,style:'italic'},padding:{top:0,bottom:0}},
       afterFit(s){s.height=73;}},
      y:{display:false,reverse:true,min:0,max:5.88}},
    plugins:{frameTicks:{on:true,xLen:12,xBottomOnly:true},notes:{items:notes}}
  }});
}
const BOLD='bold 16px '+SERIF;
// ---------- panels b and d first, the maps and arrows above them ----------
timeAxisChart(330,359,6,11,.17897,.33879,vortB,plateB,rowOriginB,colOriginB,rowYB,-.36,[{text:'b.',x:14,y:15,font:BOLD}]);
timeAxisChart(1000,356,5,11,.17897,.33785,vortD,plateD,rowOriginD,colOriginD,rowYD,-.367,[{text:'d.',x:15,y:15,font:BOLD}]);
colorBar(1120,200,{l:76.7,r:12,t:32,b:49,tick:5},vortBarStops,[-25,25],vortBarTicks,['\u221220','0','20'],[{text:'\u03c9c/',x:16,y:42,font:'italic 20px '+SERIF},{text:'U',x:47,y:43,font:'20px '+SERIF,bar:[1,14,10]}]);
document.body.lastChild.style.top='517px';
// panel a strip
{const ds=clTopLevels.map(l=>band([l[1],l[1]],[l[2],l[2]],aeTopRows,clColors[l[0]],0));
 ds.push(band([clTopPeak[0],clTopPeak[0]],[clTopPeak[1],clTopPeak[1]],aeTopRows,clBlobColors[0],0));
 marker(clTopPoint,79.8).forEach(d=>ds.push(d));
 mk(0,0,360,135,{type:'scatter',data:{datasets:ds},options:{layout:{padding:{top:65.7,right:45}},scales:axes(1e3,1e4,{xH:25}),
   plugins:{frameTicks:ticksWith([[81.4,clTopPoint[1]]]),notes:{items:[{text:'a.',x:46,y:15,font:BOLD}]}}}});}
// panel a main
{const ds=clLeft.map((L,i)=>band(L,clRight[i],aeRows,clColors[i],.4));
 clBlobs.forEach((b,i)=>ds.push(blob(b,clBlobColors[i])));
 clPoints.forEach(p=>marker(p,79.8).forEach(d=>ds.push(d)));
 mk(0,100,360,561,{type:'scatter',data:{datasets:ds},options:{layout:{padding:{top:41,right:45}},scales:axes(.25,12.1,{xLabels:true,xH:73}),plugins:{frameTicks:ticksWith(clPoints.map(p=>[81.4,p[1]]))}}});}
colorBar(130,200,{l:73.3,r:15,t:32,b:49.3,tick:7},clBarStops,[0,2.5],clBarTicks,['0','1','2'],[{text:'C',x:36,y:41,font:'italic 22px '+SERIF,bar:[2,15,12]},{text:'L',x:52,y:46,font:'12px '+SERIF}]);
// panel c strip
{const ds=etaTopLevels.map(l=>band([l[1],l[1]],[l[2],l[2]],aeTopRows,l[0],0));
 marker(etaTopPoint,80.3).forEach(d=>ds.push(d));
 mk(668,0,372,135,{type:'scatter',data:{datasets:ds},options:{layout:{padding:{top:65.7,right:57}},scales:axes(1e3,1e4,{xH:25}),
   plugins:{frameTicks:ticksWith([[81.9,etaTopPoint[1]]]),notes:{items:[{text:'c.',x:48,y:15,font:BOLD}]}}}});}
// panel c main
{const ds=etaLeft.map((L,i)=>band(L,etaRight[i],aeRows,etaColors[i],.4));
 etaBlobs.forEach((b,i)=>ds.push(blob(b,etaBlobColors[i])));
 etaPoints.forEach(p=>marker(p,80.3).forEach(d=>ds.push(d)));
 mk(668,100,372,561,{type:'scatter',data:{datasets:ds},options:{layout:{padding:{top:41,right:57}},scales:axes(.25,12.1,{xLabels:true,xH:73}),plugins:{frameTicks:ticksWith(etaPoints.map(p=>[81.9,p[1]]))}}});}
colorBar(800,200,{l:71,r:17.3,t:32,b:49.3,tick:7},etaBarStops,[0,1],etaBarTicks,['0','0.5','1'],[{text:'\u03b7',x:43,y:43,font:'italic 22px '+SERIF,bar:[0,11,13]}]);
</script></body></html>
